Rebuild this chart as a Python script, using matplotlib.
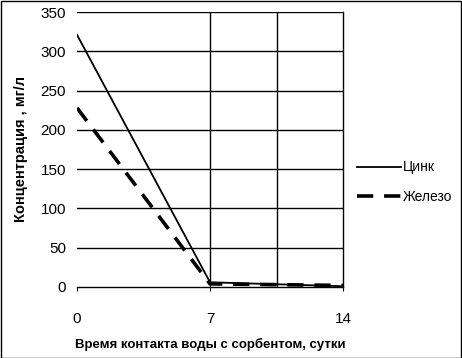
import matplotlib.pyplot as plt
from matplotlib.patches import Rectangle

days = [0, 7, 14]
zinc = [321, 6, 1]
iron = [228, 4, 2]
y_ticks = [0, 50, 100, 150, 200, 250, 300, 350]

plt.rcParams['font.family'] = ['Liberation Sans', 'DejaVu Sans']

fig = plt.figure(figsize=(4.62, 3.58), dpi=100)
ax = fig.add_axes([77 / 462, 71 / 358, 266 / 462, 275 / 358])

ax.plot(days, zinc, color='black', lw=1.3, label='Цинк')
ax.plot(days, iron, color='black', lw=2.6, linestyle=(0, (4.5, 3)), label='Железо')

ax.set_xlim(0, 14)
ax.set_ylim(0, 350)
ax.set_xticks(days)
ax.set_yticks(y_ticks)
ax.tick_params(axis='y', length=0, pad=8, labelsize=11)
ax.tick_params(axis='x', length=3, pad=15, labelsize=11, direction='out')

for y in y_ticks[1:]:
    ax.axhline(y, color='black', lw=1)
for x in [7, 10.5]:
    ax.axvline(x, color='black', lw=1)

for s in ['left', 'top']:
    ax.spines[s].set_visible(False)
ax.spines['right'].set_linewidth(1)
ax.spines['bottom'].set_linewidth(1)

ax.set_xlabel('Время контакта воды с сорбентом, сутки', fontsize=9.5,
              fontweight='bold')
ax.xaxis.set_label_coords(0.5, -51 / 275)
ax.set_ylabel('Концентрация , мг/л', fontsize=10.5, fontweight='bold')
ax.yaxis.set_label_coords(-49 / 266, 0.5)

fig.legend(loc='center left', bbox_to_anchor=(357 / 462, 1 - 182 / 358),
           frameon=False, fontsize=10, handlelength=3.2, handletextpad=0.1,
           labelspacing=1.1, borderpad=0, borderaxespad=0)

fig.patches.append(Rectangle((0.5 / 462, 0.5 / 358), 1 - 1.5 / 462, 1 - 1.5 / 358,
                             transform=fig.transFigure, fill=False,
                             edgecolor='black', lw=1))

fig.savefig('out.png', dpi=100)
